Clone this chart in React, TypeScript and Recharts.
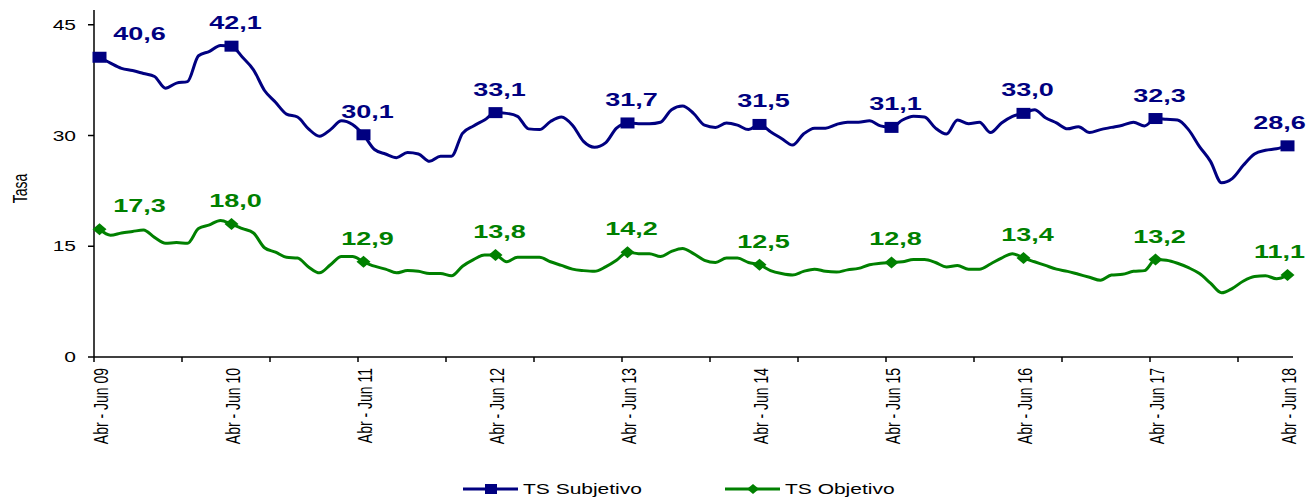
import React from 'react';
import { LineChart, Line, XAxis, YAxis, Legend } from 'recharts';

// trimestres moviles Abr-Jun 09 ... Abr-Jun 18
const MESES = ['Ene', 'Feb', 'Mar', 'Abr', 'May', 'Jun', 'Jul', 'Ago', 'Sep', 'Oct', 'Nov', 'Dic'];
const periodos = Array.from({ length: 109 }, (_, k) => {
  const m = 3 + k;
  const anio = 2009 + Math.floor((m + 2) / 12);
  return `${MESES[m % 12]} - ${MESES[(m + 2) % 12]} ${String(anio).slice(2)}`;
});

const tsSubjetivo = [
  40.6, 39.8, 39.1, 38.8, 38.4, 38.0, 36.4, 37.1, 37.3, 40.8, 41.4, 42.2,
  42.1, 40.6, 38.9, 36.1, 34.5, 32.9, 32.5, 30.9, 29.9, 30.8, 32.0, 31.5,
  30.1, 28.1, 27.5, 27.0, 27.7, 27.5, 26.5, 27.2, 27.2, 30.3, 31.3, 32.1,
  33.1, 33.0, 32.6, 30.9, 30.8, 31.9, 32.5, 31.4, 29.2, 28.4, 29.0, 31.0,
  31.7, 31.6, 31.6, 31.8, 33.5, 34.0, 33.0, 31.4, 31.1, 31.7, 31.4, 30.8,
  31.5, 30.5, 29.6, 28.7, 30.2, 31.0, 31.0, 31.5, 31.8, 31.8, 32.0, 31.3,
  31.1, 32.1, 32.6, 32.5, 31.0, 30.2, 32.1, 31.6, 31.8, 30.4, 31.7, 32.6,
  33.0, 33.5, 32.4, 31.7, 30.9, 31.2, 30.4, 30.8, 31.1, 31.4, 31.8, 31.3,
  32.3, 32.2, 32.1, 30.8, 28.5, 26.5, 23.6, 24.2, 26.0, 27.5, 28.0, 28.2,
  28.6,
];

const tsObjetivo = [
  17.3, 16.5, 16.8, 17.0, 17.2, 16.2, 15.4, 15.5, 15.4, 17.4, 17.9, 18.5,
  18.0, 17.4, 16.8, 14.8, 14.2, 13.5, 13.4, 12.2, 11.4, 12.5, 13.6, 13.6,
  12.9, 12.3, 11.9, 11.4, 11.7, 11.6, 11.3, 11.3, 11.0, 12.3, 13.2, 13.8,
  13.8, 12.9, 13.5, 13.5, 13.5, 12.9, 12.4, 11.9, 11.7, 11.6, 12.2, 13.1,
  14.2, 14.0, 14.0, 13.6, 14.3, 14.7, 14.0, 13.1, 12.8, 13.4, 13.4, 12.8,
  12.5, 11.7, 11.3, 11.1, 11.6, 11.9, 11.6, 11.5, 11.8, 12.0, 12.5, 12.7,
  12.8, 12.9, 13.2, 13.2, 12.8, 12.2, 12.4, 11.9, 11.9, 12.6, 13.4, 14.0,
  13.4, 12.9, 12.4, 11.9, 11.6, 11.2, 10.8, 10.4, 11.1, 11.2, 11.6, 11.7,
  13.2, 13.1, 12.7, 12.1, 11.3, 10.0, 8.7, 9.3, 10.3, 10.9, 11.0, 10.6,
  11.1,
];

const yTicks = [0, 15, 30, 45];

const AZUL = '#000080';
const VERDE = '#008000';
const FONT = '"Liberation Sans", Arial, Helvetica, sans-serif';
const SX = 1.5; // the original picture is stretched sideways, text too

const data = periodos.map((periodo, i) => ({ periodo, sub: tsSubjetivo[i], obj: tsObjetivo[i] }));
const ultimo = periodos.length - 1;

const fmt = (v: number) => v.toFixed(1).replace('.', ',');

const XTick = (props: any) => {
  const { x, y, payload } = props;
  const i = payload.index ?? props.index;
  return (
    <g>
      {i % 8 === 0 && <line x1={x - 5.5} x2={x - 5.5} y1={y} y2={y + 5} stroke="#000" strokeWidth={1.5} />}
      {i % 12 === 0 && (
        <text
          transform={`translate(${x + 8},${y + 11}) scale(${SX},1) rotate(-90)`}
          textAnchor="end"
          fontSize={14}
          fontFamily={FONT}
          fill="#000"
        >
          {payload.value}
        </text>
      )}
    </g>
  );
};

const YTick = (props: any) => {
  const { x, y, payload } = props;
  return (
    <g>
      <line x1={x - 6} x2={x} y1={y} y2={y} stroke="#000" strokeWidth={1.5} />
      <text transform={`translate(${x - 18},${y + 5}) scale(${SX},1)`} textAnchor="end" fontSize={14} fontFamily={FONT} fill="#000">
        {payload.value}
      </text>
    </g>
  );
};

const TasaLabel = (props: any) => {
  const vb = props.viewBox || { x: 34, y: 10, height: 347 };
  const cy = vb.y + vb.height / 2 + 5;
  return (
    <text transform={`translate(27,${cy}) scale(${SX},1) rotate(-90)`} textAnchor="middle" fontSize={14} fontFamily={FONT} fill="#000">
      Tasa
    </text>
  );
};

// marker + value label every 12 periods (Abr - Jun)
const marcador = (key: 'sub' | 'obj', color: string) => (props: any) => {
  const { cx, cy, index } = props;
  if (index % 12 !== 0 || cx == null) return <g key={`${key}-${index}`} />;
  const dx = index === 0 ? 40 : index === ultimo ? -8 : 4;
  return (
    <g key={`${key}-${index}`}>
      {key === 'sub' ? (
        <rect x={cx - 7} y={cy - 5.5} width={14} height={11} fill={color} />
      ) : (
        <polygon points={`${cx - 7},${cy} ${cx},${cy - 6} ${cx + 7},${cy} ${cx},${cy + 6}`} fill={color} />
      )}
      <text
        transform={`translate(${cx + dx},${cy - 17}) scale(${SX},1)`}
        textAnchor="middle"
        fontSize={18}
        fontWeight="bold"
        fontFamily={FONT}
        fill={color}
      >
        {fmt(props.payload[key])}
      </text>
    </g>
  );
};

const ORDEN = ['sub', 'obj'];

const Leyenda = (props: any) => {
  const items = [...(props.payload || [])].sort(
    (a: any, b: any) => ORDEN.indexOf(a.dataKey) - ORDEN.indexOf(b.dataKey)
  );
  const starts = [463, 725];
  return (
    <svg width={1312} height={20} style={{ display: 'block' }}>
      {items.map((it: any, i: number) => {
        const x0 = starts[i] ?? 463 + i * 262;
        const mx = x0 + 28;
        return (
          <g key={it.value}>
            <line x1={x0} x2={x0 + 55} y1={10} y2={10} stroke={it.color} strokeWidth={3} />
            {it.dataKey === 'sub' ? (
              <rect x={mx - 6} y={5} width={12} height={10} fill={it.color} />
            ) : (
              <polygon points={`${mx - 6},10 ${mx},5 ${mx + 6},10 ${mx},15`} fill={it.color} />
            )}
            <text transform={`translate(${x0 + 60},15) scale(${SX},1)`} fontSize={14} fontFamily={FONT} fill="#000">
              {it.value}
            </text>
          </g>
        );
      })}
    </svg>
  );
};

export default function App() {
  return (
    <div style={{ position: 'absolute', left: 0, top: 0, width: 1312, height: 499, background: '#fff', fontFamily: FONT }}>
      <LineChart width={1312} height={499} data={data} margin={{ top: 10, right: 19, left: 34, bottom: 0 }}>
        <XAxis
          dataKey="periodo"
          interval={0}
          padding={{ left: 5.5, right: 5.5 }}
          height={122}
          tickSize={0}
          tickMargin={0}
          tickLine={false}
          axisLine={{ stroke: '#000', strokeWidth: 1.5 }}
          tick={<XTick />}
        />
        <YAxis
          domain={[0, 47]}
          ticks={yTicks}
          width={60}
          tickSize={0}
          tickMargin={0}
          tickLine={false}
          axisLine={{ stroke: '#000', strokeWidth: 1.5 }}
          tick={<YTick />}
          label={<TasaLabel />}
        />
        <Legend
          verticalAlign="bottom"
          height={20}
          content={<Leyenda />}
          wrapperStyle={{ left: 0, width: 1312, bottom: 0 }}
        />
        <Line
          type="monotone"
          dataKey="sub"
          name="TS Subjetivo"
          stroke={AZUL}
          strokeWidth={3}
          dot={marcador('sub', AZUL)}
          activeDot={false}
          isAnimationActive={false}
        />
        <Line
          type="monotone"
          dataKey="obj"
          name="TS Objetivo"
          stroke={VERDE}
          strokeWidth={3}
          dot={marcador('obj', VERDE)}
          activeDot={false}
          isAnimationActive={false}
        />
      </LineChart>
    </div>
  );
}
